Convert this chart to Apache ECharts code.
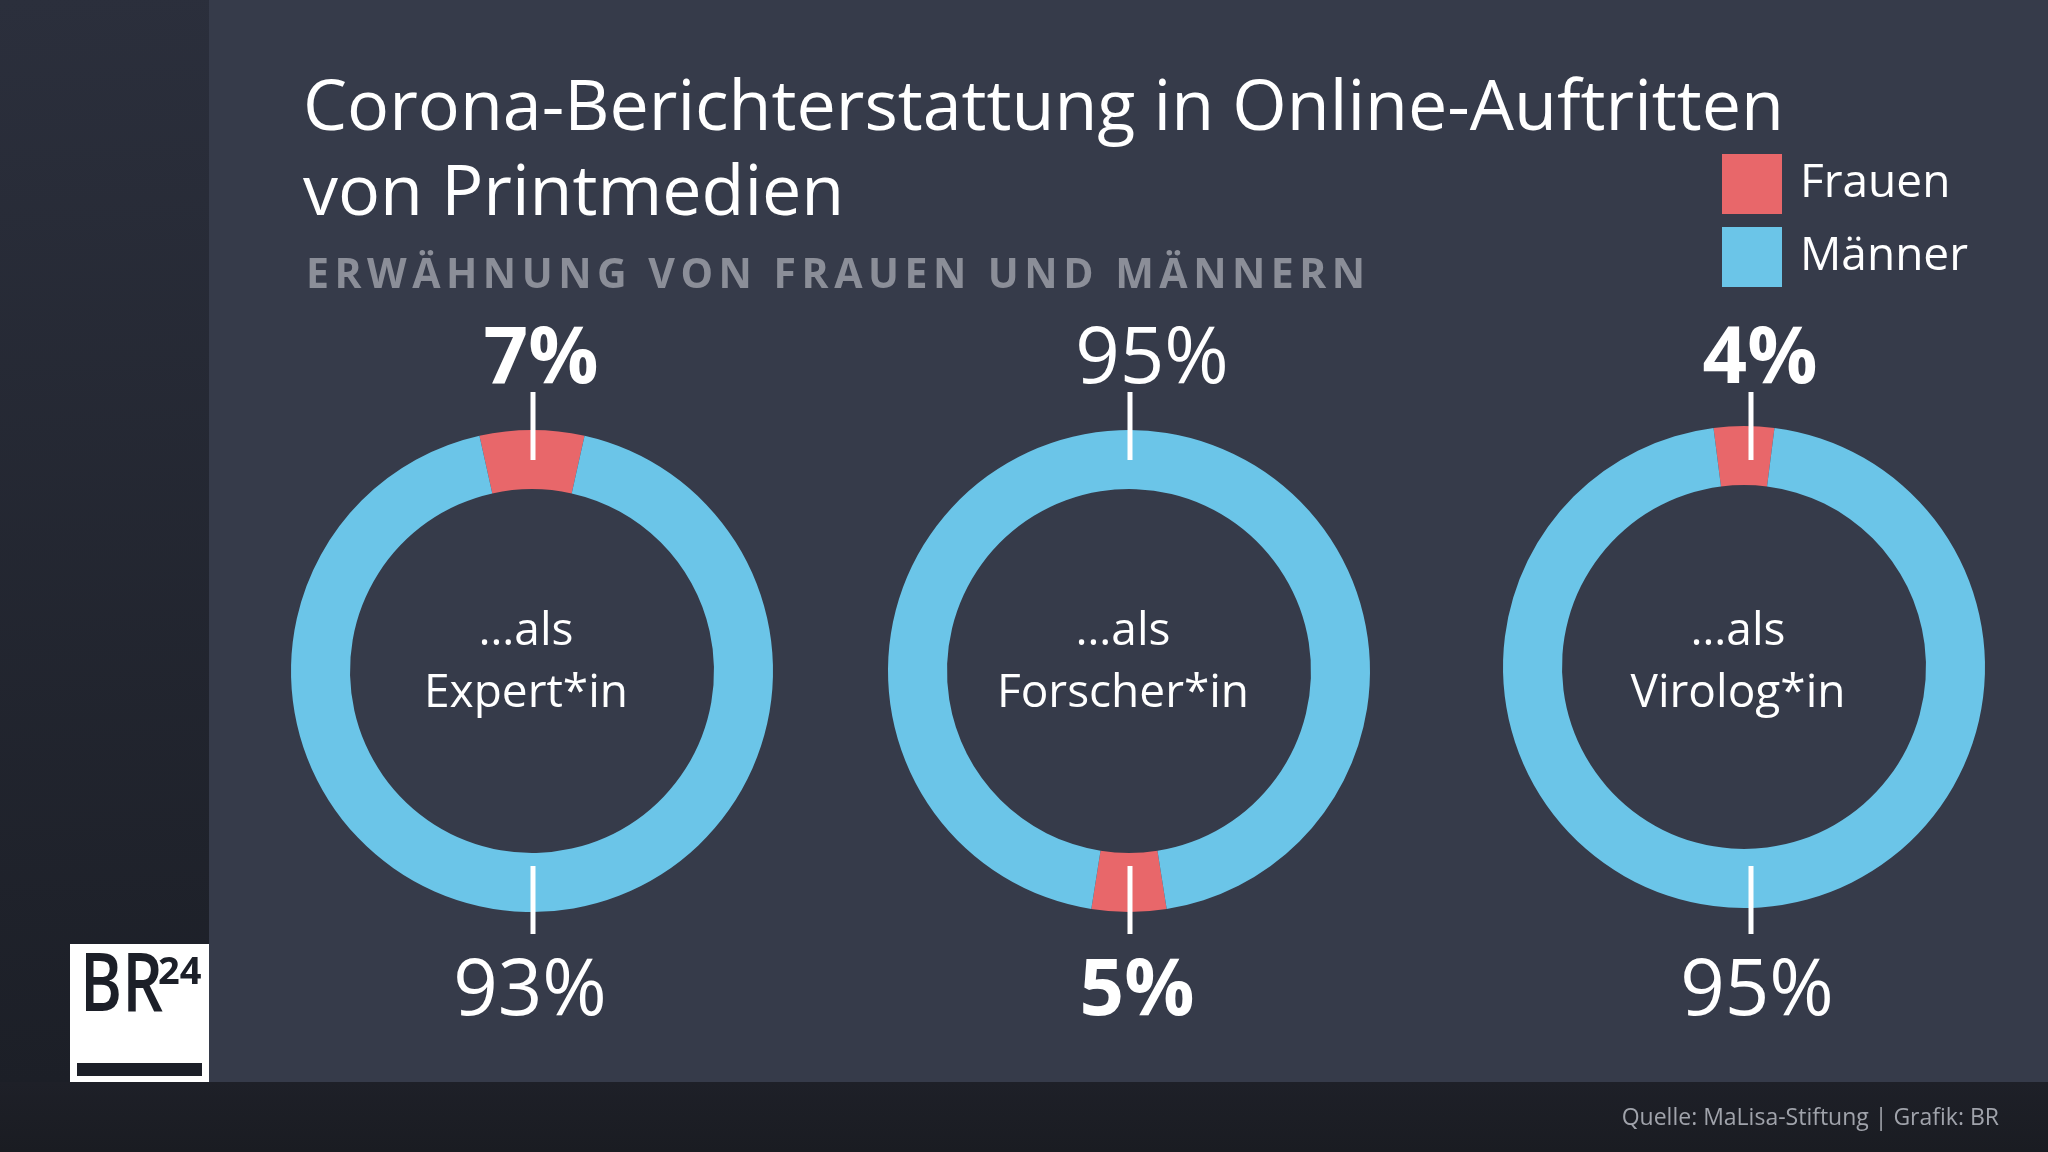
<!DOCTYPE html>
<html>
<head>
<meta charset="utf-8">
<script src="https://cdn.jsdelivr.net/npm/echarts@6/dist/echarts.min.js"></script>
<style>
html,body{margin:0;padding:0;background:#363b4a;}
#chart{width:2048px;height:1152px;}
</style>
</head>
<body>
<div id="chart"></div>
<script>
// ---- data ----
const categories = ['…als\nExpert*in', '…als\nForscher*in', '…als\nVirolog*in'];
const seriesNames = ['Frauen', 'Männer'];
const frauen = [7, 5, 4];
const maenner = [93, 95, 95];
const frauenSide = ['top', 'bottom', 'top'];
const titleText = 'Corona-Berichterstattung in Online-Auftritten\nvon Printmedien';
const subtitleText = 'ERWÄHNUNG VON FRAUEN UND MÄNNERN';
const sourceText = 'Quelle: MaLisa-Stiftung | Grafik: BR';

// ---- layout ----
const centersX = [532, 1129, 1744];
const centersY = [671, 671, 667];
const rInner = 182, rOuter = 241;
const lineDx = [1, 1, 7];
const labelDx = [[8, -3], [7, 22], [15, 12]]; // [frauen, männer] horizontal nudges
const colors = ['#e8676a', '#6bc5e8'];
const FONT = '"Open Sans", sans-serif';

const chart = echarts.init(document.getElementById('chart'), null, {renderer: 'canvas'});

const series = categories.map((cat, i) => {
  const total = frauen[i] + maenner[i];
  const half = 360 * frauen[i] / total / 2;
  const start = (frauenSide[i] === 'top' ? 90 : 270) + half;
  return {
    type: 'pie',
    name: cat,
    center: [centersX[i], centersY[i]],
    radius: [rInner, rOuter],
    startAngle: start,
    clockwise: true,
    silent: true,
    z: 2,
    label: {show: false},
    labelLine: {show: false},
    emphasis: {disabled: true},
    itemStyle: {borderWidth: 0},
    data: [
      {name: seriesNames[0], value: frauen[i]},
      {name: seriesNames[1], value: maenner[i]}
    ]
  };
});

const graphics = [];
// backgrounds
graphics.push({type: 'rect', z: -10, silent: true, shape: {x: 0, y: 0, width: 2048, height: 1152}, style: {fill: '#363b4a'}});
graphics.push({type: 'rect', z: -9, silent: true, shape: {x: 0, y: 0, width: 209, height: 1082},
  style: {fill: {type: 'linear', x: 0, y: 0, x2: 0.3, y2: 1, colorStops: [{offset: 0, color: '#2b2f3c'}, {offset: 1, color: '#1c1f27'}]}}});
graphics.push({type: 'rect', z: -9, silent: true, shape: {x: 0, y: 1082, width: 2048, height: 70},
  style: {fill: {type: 'linear', x: 0, y: 0, x2: 0, y2: 1, colorStops: [{offset: 0, color: '#1e2028'}, {offset: 1, color: '#1a1c22'}]}}});
// logo
graphics.push({type: 'rect', z: 5, silent: true, shape: {x: 70, y: 944, width: 139, height: 138}, style: {fill: '#ffffff'}});
graphics.push({type: 'rect', z: 6, silent: true, shape: {x: 77, y: 1063, width: 125, height: 13}, style: {fill: '#1c1f28'}});
graphics.push({type: 'text', z: 6, silent: true, x: 80, y: 988, scaleX: 0.78,
  style: {text: 'BR', font: '600 82px ' + FONT, fill: '#1c1f28', textVerticalAlign: 'middle', textAlign: 'left'}});
graphics.push({type: 'text', z: 6, silent: true, x: 158, y: 973,
  style: {text: '24', font: '700 38px ' + FONT, fill: '#1c1f28', textVerticalAlign: 'middle', textAlign: 'left'}});
// subtitle with letter spacing via rich text
const spaced = subtitleText.split('').map(c => c + '{sp| }').join('');
graphics.push({type: 'text', z: 6, silent: true, x: 306, y: 276,
  style: {text: spaced, font: '700 41px ' + FONT, fill: '#8b8e98', textVerticalAlign: 'middle', textAlign: 'left',
    rich: {sp: {width: 5.5, fontSize: 10}}}});
// source
graphics.push({type: 'text', z: 6, silent: true, x: 1999, y: 1118,
  style: {text: sourceText, font: '400 23px ' + FONT, fill: '#a0a3ab', textVerticalAlign: 'middle', textAlign: 'right'}});

categories.forEach((cat, i) => {
  const cx = centersX[i];
  // center label
  graphics.push({type: 'text', z: 6, silent: true, x: cx - 6, y: 663,
    style: {text: cat, font: '400 46px ' + FONT, fill: '#ffffff', textAlign: 'center', textVerticalAlign: 'middle', lineHeight: 62}});
  const vals = [frauen[i], maenner[i]];
  vals.forEach((v, k) => {
    const isTop = (k === 0) === (frauenSide[i] === 'top');
    const lineY1 = isTop ? 392 : 866;
    const lineY2 = isTop ? 460 : 934;
    const textY = isTop ? 361 : 993;
    const lx = cx + lineDx[i];
    graphics.push({type: 'line', z: 10, silent: true,
      shape: {x1: lx, y1: lineY1, x2: lx, y2: lineY2}, style: {stroke: '#ffffff', lineWidth: 5}});
    graphics.push({type: 'text', z: 10, silent: true, x: cx + 1 + labelDx[i][k], y: textY,
      style: {text: v + '%', font: (k === 0 ? '700 ' : '400 ') + '78px ' + FONT, fill: '#ffffff', textAlign: 'center', textVerticalAlign: 'middle'}});
  });
});

chart.setOption({
  backgroundColor: 'transparent',
  animation: false,
  color: colors,
  title: {
    text: titleText,
    left: 303, top: 68, padding: 0,
    textStyle: {color: '#ffffff', fontFamily: FONT, fontWeight: 400, fontSize: 70, lineHeight: 85}
  },
  legend: {
    data: seriesNames,
    orient: 'vertical',
    left: 1722, top: 154, padding: 0,
    itemWidth: 60, itemHeight: 60, itemGap: 13,
    icon: 'rect',
    selectedMode: false,
    textStyle: {color: '#ffffff', fontFamily: FONT, fontSize: 46, padding: [4, 0, 0, 13]}
  },
  graphic: graphics,
  series: series
});
</script>
</body>
</html>
